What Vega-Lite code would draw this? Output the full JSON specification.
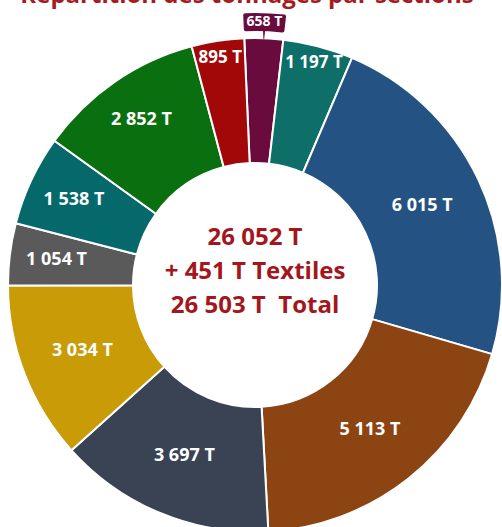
{
  "$schema": "https://vega.github.io/schema/vega-lite/v6.json",
  "width": 510,
  "height": 570,
  "autosize": "none",
  "padding": 0,
  "background": "white",
  "view": {"stroke": null},
  "title": {
    "text": "Répartition des tonnages par sections",
    "font": "Open Sans",
    "fontSize": 24,
    "fontWeight": "bold",
    "color": "#a51b22",
    "anchor": "middle",
    "baseline": "alphabetic",
    "offset": -27,
    "dx": -8
  },
  "data": {
    "values": [
      {"order": 1, "label": "658 T", "value": 658},
      {"order": 2, "label": "1 197 T", "value": 1197},
      {"order": 3, "label": "6 015 T", "value": 6015},
      {"order": 4, "label": "5 113 T", "value": 5113},
      {"order": 5, "label": "3 697 T", "value": 3697},
      {"order": 6, "label": "3 034 T", "value": 3034},
      {"order": 7, "label": "1 054 T", "value": 1054},
      {"order": 8, "label": "1 538 T", "value": 1538},
      {"order": 9, "label": "2 852 T", "value": 2852},
      {"order": 10, "label": "895 T", "value": 895}
    ]
  },
  "layer": [
    {
      "encoding": {
        "theta": {
          "field": "value",
          "type": "quantitative",
          "stack": true,
          "scale": {"range": [-0.0436, 6.2396]}
        },
        "order": {"field": "order", "type": "quantitative"},
        "color": {
          "field": "label",
          "type": "nominal",
          "legend": null,
          "scale": {
            "domain": ["658 T", "1 197 T", "6 015 T", "5 113 T", "3 697 T", "3 034 T", "1 054 T", "1 538 T", "2 852 T", "895 T"],
            "range": ["#6a0b3d", "#0e6f68", "#245383", "#8c4512", "#3a4353", "#c99b06", "#5a5a5a", "#05686b", "#0a6f0f", "#a30808"]
          }
        }
      },
      "layer": [
        {
          "mark": {"type": "arc", "innerRadius": 122, "outerRadius": 247, "stroke": "white", "strokeWidth": 2}
        },
        {
          "mark": {"type": "arc", "innerRadius": 246, "outerRadius": 255, "padAngle": 0.108},
          "encoding": {
            "opacity": {"condition": {"test": "datum.value == 658", "value": 1}, "value": 0}
          }
        },
        {
          "mark": {"type": "arc", "innerRadius": 254, "outerRadius": 272, "cornerRadius": 2},
          "encoding": {
            "opacity": {"condition": {"test": "datum.value == 658", "value": 1}, "value": 0}
          }
        },
        {
          "mark": {"type": "text", "radius": 263, "font": "Open Sans", "fontSize": 14, "fontWeight": "bold", "align": "center", "baseline": "middle"},
          "encoding": {
            "text": {"field": "label"},
            "color": {"value": "white"},
            "opacity": {"condition": {"test": "datum.value == 658", "value": 1}, "value": 0}
          }
        },
        {
          "mark": {"type": "text", "radius": 185, "font": "Open Sans", "fontSize": 18, "fontWeight": "bold", "align": "center", "baseline": "middle"},
          "encoding": {
            "text": {"field": "label"},
            "color": {"value": "white"},
            "opacity": {"condition": {"test": "datum.value >= 3000", "value": 1}, "value": 0}
          }
        },
        {
          "mark": {"type": "text", "radius": 200, "font": "Open Sans", "fontSize": 18, "fontWeight": "bold", "align": "center", "baseline": "middle"},
          "encoding": {
            "text": {"field": "label"},
            "color": {"value": "white"},
            "opacity": {"condition": {"test": "datum.value == 1054 || datum.value == 1538 || datum.value == 2852", "value": 1}, "value": 0}
          }
        },
        {
          "mark": {"type": "text", "radius": 230, "font": "Open Sans", "fontSize": 17, "fontWeight": "bold", "align": "center", "baseline": "middle"},
          "encoding": {
            "text": {"field": "label"},
            "color": {"value": "white"},
            "opacity": {"condition": {"test": "datum.value == 895 || datum.value == 1197", "value": 1}, "value": 0}
          }
        }
      ]
    },
    {
      "data": {"values": [{"t": "26 052 T\n+ 451 T Textiles\n26 503 T\u00a0 Total"}]},
      "mark": {
        "type": "text",
        "lineBreak": "\n",
        "lineHeight": 34,
        "font": "Open Sans",
        "fontSize": 24,
        "fontWeight": "bold",
        "color": "#a3161c",
        "align": "center",
        "baseline": "middle",
        "dy": -47
      },
      "encoding": {"text": {"field": "t"}}
    }
  ]
}
